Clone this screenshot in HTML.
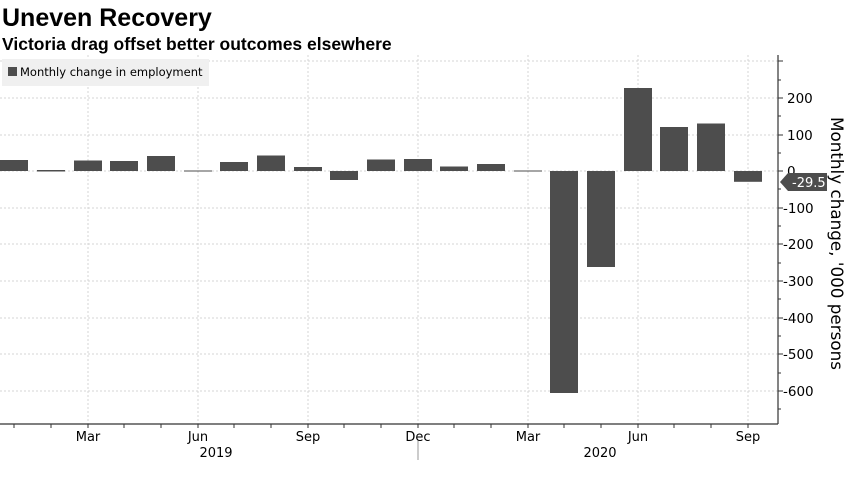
<!DOCTYPE html>
<html><head><style>
body{margin:0;background:#fff;font-family:"DejaVu Sans","Liberation Sans",sans-serif;}
</style></head><body>
<svg width="850" height="478" xmlns="http://www.w3.org/2000/svg" font-family="DejaVu Sans, Liberation Sans, sans-serif">
<rect width="850" height="478" fill="#fff"/>
<text x="2" y="26" font-size="25" font-weight="bold" fill="#000" font-family="Liberation Sans, sans-serif">Uneven Recovery</text>
<text x="2" y="50" font-size="17.5" font-weight="bold" fill="#000" font-family="Liberation Sans, sans-serif">Victoria drag offset better outcomes elsewhere</text>
<g stroke="#d4d4d4" stroke-dasharray="2,2" stroke-width="1">
<line x1="0" x2="778" y1="61" y2="61"/><line x1="0" x2="778" y1="98" y2="98"/><line x1="0" x2="778" y1="135" y2="135"/><line x1="0" x2="778" y1="171" y2="171"/><line x1="0" x2="778" y1="208" y2="208"/><line x1="0" x2="778" y1="244" y2="244"/><line x1="0" x2="778" y1="281" y2="281"/><line x1="0" x2="778" y1="318" y2="318"/><line x1="0" x2="778" y1="354" y2="354"/><line x1="0" x2="778" y1="391" y2="391"/>
<line x1="88" x2="88" y1="55" y2="424"/><line x1="198" x2="198" y1="55" y2="424"/><line x1="308" x2="308" y1="55" y2="424"/><line x1="418" x2="418" y1="55" y2="424"/><line x1="528" x2="528" y1="55" y2="424"/><line x1="638" x2="638" y1="55" y2="424"/><line x1="748" x2="748" y1="55" y2="424"/>
</g>
<rect x="2" y="59" width="207" height="27" fill="#f0f0f0"/>
<rect x="8" y="67" width="9" height="9" fill="#4d4d4d"/>
<text x="20" y="76" font-size="11.5" fill="#000">Monthly change in employment</text>
<g fill="#4d4d4d">
<rect x="0" y="160" width="28" height="11"/>
<rect x="37" y="170" width="28" height="1.5"/>
<rect x="74" y="160.5" width="28" height="10.5"/>
<rect x="110" y="161" width="28" height="10"/>
<rect x="147" y="156" width="28" height="15"/>
<rect x="184" y="170.5" width="28" height="1"/>
<rect x="220" y="162" width="28" height="9"/>
<rect x="257" y="155.5" width="28" height="15.5"/>
<rect x="294" y="167" width="28" height="4"/>
<rect x="330" y="171" width="28" height="9"/>
<rect x="367" y="159.5" width="28" height="11.5"/>
<rect x="404" y="159" width="28" height="12"/>
<rect x="440" y="166.5" width="28" height="4.5"/>
<rect x="477" y="164" width="28" height="7"/>
<rect x="514" y="170.5" width="28" height="1"/>
<rect x="550" y="171" width="28" height="222"/>
<rect x="587" y="171" width="28" height="96"/>
<rect x="624" y="88" width="28" height="83"/>
<rect x="660" y="127" width="28" height="44"/>
<rect x="697" y="123.5" width="28" height="47.5"/>
<rect x="734" y="171" width="28" height="10.8"/>
</g>
<line x1="0" x2="778" y1="424" y2="424" stroke="#333" stroke-width="1.2"/>
<line x1="778" x2="778" y1="55" y2="424" stroke="#333" stroke-width="1.2"/>
<g stroke="#333">
<line x1="778" x2="783" y1="61" y2="61"/><line x1="778" x2="783" y1="98" y2="98"/><line x1="778" x2="783" y1="135" y2="135"/><line x1="778" x2="783" y1="171" y2="171"/><line x1="778" x2="783" y1="208" y2="208"/><line x1="778" x2="783" y1="244" y2="244"/><line x1="778" x2="783" y1="281" y2="281"/><line x1="778" x2="783" y1="318" y2="318"/><line x1="778" x2="783" y1="354" y2="354"/><line x1="778" x2="783" y1="391" y2="391"/>
<line x1="778" x2="781" y1="80" y2="80"/><line x1="778" x2="781" y1="116" y2="116"/><line x1="778" x2="781" y1="153" y2="153"/><line x1="778" x2="781" y1="189" y2="189"/><line x1="778" x2="781" y1="226" y2="226"/><line x1="778" x2="781" y1="263" y2="263"/><line x1="778" x2="781" y1="299" y2="299"/><line x1="778" x2="781" y1="336" y2="336"/><line x1="778" x2="781" y1="373" y2="373"/><line x1="778" x2="781" y1="409" y2="409"/>
<line x1="14" x2="14" y1="424" y2="428"/><line x1="51" x2="51" y1="424" y2="428"/><line x1="88" x2="88" y1="424" y2="428"/><line x1="124" x2="124" y1="424" y2="428"/><line x1="161" x2="161" y1="424" y2="428"/><line x1="198" x2="198" y1="424" y2="428"/><line x1="234" x2="234" y1="424" y2="428"/><line x1="271" x2="271" y1="424" y2="428"/><line x1="308" x2="308" y1="424" y2="428"/><line x1="344" x2="344" y1="424" y2="428"/><line x1="381" x2="381" y1="424" y2="428"/><line x1="418" x2="418" y1="424" y2="428"/><line x1="454" x2="454" y1="424" y2="428"/><line x1="491" x2="491" y1="424" y2="428"/><line x1="528" x2="528" y1="424" y2="428"/><line x1="564" x2="564" y1="424" y2="428"/><line x1="601" x2="601" y1="424" y2="428"/><line x1="638" x2="638" y1="424" y2="428"/><line x1="674" x2="674" y1="424" y2="428"/><line x1="711" x2="711" y1="424" y2="428"/><line x1="748" x2="748" y1="424" y2="428"/>
<line x1="418" x2="418" y1="440" y2="460" stroke="#999"/>
</g>
<g font-size="13.5" fill="#000">
<text x="787" y="103">200</text><text x="787" y="140">100</text><text x="787" y="176">0</text>
<text x="783" y="213">-100</text><text x="783" y="249">-200</text><text x="783" y="286">-300</text><text x="783" y="323">-400</text><text x="783" y="359">-500</text><text x="783" y="396">-600</text>
</g>
<path d="M780,182 L788,173 L827,173 L827,191 L788,191 Z" fill="#4d4d4d"/>
<text x="792" y="187" font-size="13" fill="#fff">-29.5</text>
<text transform="translate(831,117) rotate(90)" font-size="16.5" fill="#000" textLength="253" lengthAdjust="spacingAndGlyphs">Monthly change, '000 persons</text>
<g font-size="13" fill="#000" text-anchor="middle">
<text x="88" y="441">Mar</text><text x="198" y="441">Jun</text><text x="308" y="441">Sep</text><text x="418" y="441">Dec</text><text x="528" y="441">Mar</text><text x="638" y="441">Jun</text><text x="748" y="441">Sep</text>
<text x="216" y="457">2019</text><text x="600" y="457">2020</text>
</g>
</svg>
</body></html>
